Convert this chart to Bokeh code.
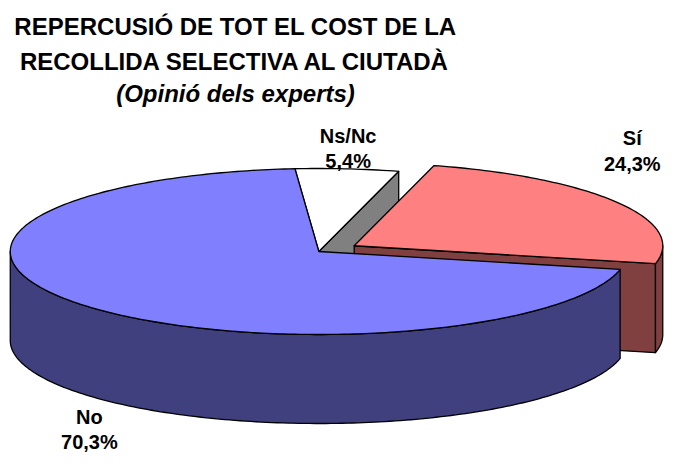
import math
from bokeh.plotting import figure
from bokeh.models import Range1d
from bokeh.core.properties import value
from bokeh.embed import file_html
from bokeh.resources import INLINE

# ---------------- data ----------------
categories = ["Sí", "No", "Ns/Nc"]
values = [24.3, 70.3, 5.4]
pct_labels = ["24,3%", "70,3%", "5,4%"]
title_lines = ["REPERCUSIÓ DE TOT EL COST DE LA", "RECOLLIDA SELECTIVA AL CIUTADÀ"]
subtitle = "(Opinió dels experts)"

# ---------------- style / layout ----------------
top_colors = ["#FF8080", "#8080FF", "#FFFFFF"]
side_colors = ["#804040", "#40407F", "#808080"]
explode = [0.134, 0.0, 0.0]

W, H = 665, 454                 # figure size in screen pixels
REF_W = 681                     # horizontal drawing span (squeezed into W)
SX = W / REF_W
CX, CY, RX, RY, DEPTH = 326, 251, 316, 83, 89
FIRST_ANGLE = 15.0              # degrees clockwise from 12 o'clock
FONT = "Liberation Sans"
LAB_FS, TIT_FS = 20, 24         # px
MID_SHIFT = 0.35                # svg text is placed by its em-middle

# label anchors (centre x, baseline of name line, baseline of % line)
label_pos = [(647, 144, 170), (91, 423, 448), (356, 142, 167)]

p = figure(width=W, height=H, output_backend="svg", toolbar_location=None,
           x_range=Range1d(0, REF_W), y_range=Range1d(H, 0),
           min_border=0, outline_line_color=None)
p.axis.visible = False
p.grid.visible = False
p.background_fill_color = "white"
p.border_fill_color = "white"

total = sum(values)
slices = []
a = FIRST_ANGLE
for i, v in enumerate(values):
    span = v / total * 360.0
    a0, a1 = a, a + span
    mid = math.radians((a0 + a1) / 2)
    ox = explode[i] * RX * math.sin(mid)
    oy = -explode[i] * RY * math.cos(mid)
    slices.append((i, a0, a1, ox, oy))
    a = a1


def pt(theta, ox, oy, dz=0.0):
    t = math.radians(theta)
    return CX + ox + RX * math.sin(t), CY + oy - RY * math.cos(t) + dz


def arc(t0, t1, ox, oy, dz=0.0):
    n = max(2, int(abs(t1 - t0) / 1.0) + 1)
    return [pt(t0 + (t1 - t0) * k / (n - 1), ox, oy, dz) for k in range(n)]


xs, ys, fills = [], [], []


def add(poly, color):
    xs.append([q[0] for q in poly])
    ys.append([q[1] for q in poly])
    fills.append(color)


# back-to-front by depth of the slice middle
order = sorted(slices, key=lambda s: -math.cos(math.radians((s[1] + s[2]) / 2)))
for i, a0, a1, ox, oy in order:
    apex = (CX + ox, CY + oy)
    apex_b = (CX + ox, CY + oy + DEPTH)
    if math.sin(math.radians(a0)) < 0:
        r, rb = pt(a0, ox, oy), pt(a0, ox, oy, DEPTH)
        add([apex, r, rb, apex_b], side_colors[i])
    if math.sin(math.radians(a1)) > 0:
        r, rb = pt(a1, ox, oy), pt(a1, ox, oy, DEPTH)
        add([apex, r, rb, apex_b], side_colors[i])
    for k in (-1, 0, 1):
        s0, s1 = max(a0, 90 + 360 * k), min(a1, 270 + 360 * k)
        if s1 > s0:
            top = arc(s0, s1, ox, oy)
            bot = arc(s1, s0, ox, oy, DEPTH)
            add(top + bot, side_colors[i])
    add([apex] + arc(a0, a1, ox, oy), top_colors[i])

p.patches(xs, ys, fill_color=fills, line_color="black", line_width=1.3,
          line_join="round")


def base(y, fs):
    return y - MID_SHIFT * fs


# data labels
lx, ly, lt = [], [], []
for i, cat in enumerate(categories):
    x0, y1, y2 = label_pos[i]
    lx += [x0, x0]
    ly += [base(y1, LAB_FS), base(y2, LAB_FS)]
    lt += [cat, pct_labels[i]]
p.text(x=lx, y=ly, text=lt, text_align="center", text_baseline="alphabetic",
       text_font=value(FONT), text_font_style="bold",
       text_font_size="%dpx" % LAB_FS, text_color="black")

# title (placed at its own screen position)
TX = 235 / SX
p.text(x=[TX, TX], y=[base(34, TIT_FS), base(69, TIT_FS)], text=title_lines,
       text_align="center", text_baseline="alphabetic", text_font=value(FONT),
       text_font_style="bold", text_font_size="%dpx" % TIT_FS,
       text_color="black")
p.text(x=[TX], y=[base(101, TIT_FS)], text=[subtitle], text_align="center",
       text_baseline="alphabetic", text_font=value(FONT),
       text_font_style="bold italic", text_font_size="%dpx" % TIT_FS,
       text_color="black")

open("out.html", "w").write(file_html(p, INLINE))
